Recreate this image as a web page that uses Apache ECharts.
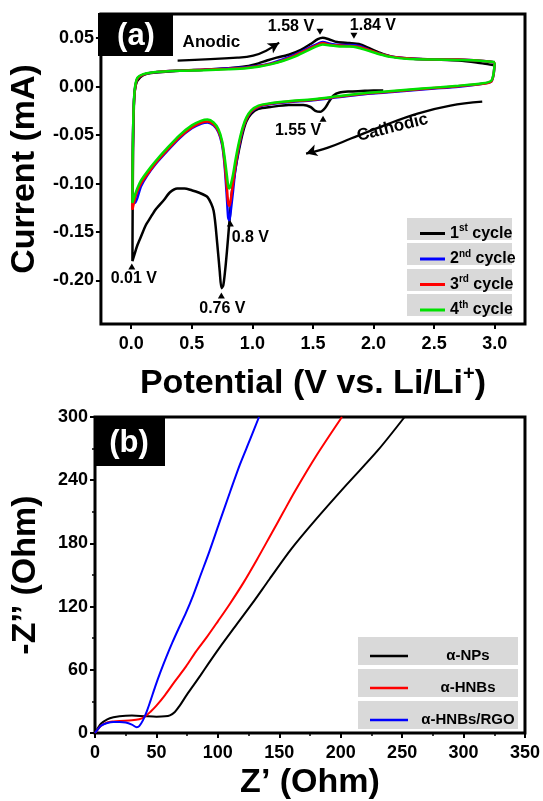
<!DOCTYPE html>
<html><head><meta charset="utf-8">
<script src="https://cdn.jsdelivr.net/npm/echarts@6/dist/echarts.min.js"></script>
<style>html,body{margin:0;padding:0;background:#fff}#c{width:543px;height:801px}</style>
</head><body><div id="c"></div>
<script>
// ---------- DATA ----------
const cvNames = ['1st cycle', '2nd cycle', '3rd cycle', '4th cycle'];
const cycle1 = [[2.08,-0.004],[2.0,-0.004],[1.9,-0.0045],[1.8,-0.005],[1.72,-0.006],[1.67,-0.009],[1.63,-0.016],[1.6,-0.022],[1.56,-0.026],[1.52,-0.025],[1.48,-0.021],[1.42,-0.019],[1.3,-0.019],[1.15,-0.021],[1.05,-0.023],[0.99,-0.028],[0.95,-0.036],[0.92,-0.048],[0.89,-0.065],[0.86,-0.085],[0.83,-0.11],[0.81,-0.14],[0.79,-0.17],[0.775,-0.19],[0.76,-0.205],[0.745,-0.208],[0.73,-0.19],[0.71,-0.162],[0.68,-0.128],[0.63,-0.114],[0.55,-0.109],[0.5,-0.107],[0.44,-0.105],[0.38,-0.105],[0.32,-0.109],[0.27,-0.117],[0.2,-0.127],[0.16,-0.135],[0.12,-0.143],[0.08,-0.155],[0.05,-0.164],[0.02,-0.176],[0.01,-0.18],[0.012,-0.12],[0.016,-0.06],[0.022,-0.02],[0.03,-0.004],[0.05,0.006],[0.1,0.012],[0.2,0.0145],[0.4,0.0165],[0.6,0.0175],[0.8,0.019],[0.95,0.021],[1.05,0.024],[1.12,0.027],[1.2,0.03],[1.3,0.033],[1.4,0.038],[1.48,0.044],[1.54,0.049],[1.58,0.0505],[1.63,0.049],[1.7,0.046],[1.8,0.045],[1.88,0.044],[1.96,0.04],[2.05,0.035],[2.15,0.031],[2.3,0.029],[2.5,0.028],[2.7,0.027],[2.85,0.025],[2.95,0.023],[3.0,0.022]];
const cycle2 = [[3.0,0.024],[2.99,0.012],[2.97,0.005],[2.9,0.003],[2.7,0.0],[2.5,-0.002],[2.3,-0.004],[2.1,-0.006],[1.9,-0.008],[1.7,-0.011],[1.5,-0.014],[1.3,-0.016],[1.15,-0.018],[1.05,-0.021],[0.99,-0.026],[0.95,-0.034],[0.92,-0.045],[0.89,-0.062],[0.86,-0.085],[0.84,-0.108],[0.82,-0.13],[0.81,-0.138],[0.8,-0.135],[0.79,-0.115],[0.77,-0.08],[0.75,-0.06],[0.72,-0.047],[0.68,-0.04],[0.63,-0.037],[0.58,-0.038],[0.5,-0.043],[0.4,-0.053],[0.3,-0.066],[0.2,-0.08],[0.13,-0.092],[0.08,-0.103],[0.05,-0.115],[0.03,-0.12],[0.01,-0.118],[0.012,-0.07],[0.018,-0.03],[0.028,-0.005],[0.05,0.008],[0.1,0.0125],[0.2,0.015],[0.4,0.0165],[0.6,0.0175],[0.8,0.019],[0.95,0.02],[1.05,0.0215],[1.15,0.024],[1.25,0.028],[1.35,0.033],[1.45,0.039],[1.52,0.043],[1.58,0.046],[1.65,0.044],[1.72,0.043],[1.8,0.043],[1.88,0.042],[1.96,0.038],[2.05,0.034],[2.15,0.031],[2.3,0.029],[2.5,0.028],[2.7,0.028],[2.85,0.027],[2.95,0.026],[3.0,0.025]];
const cycle3 = [[3.0,0.025],[2.99,0.012],[2.97,0.005],[2.9,0.003],[2.7,0.0005],[2.5,-0.0015],[2.3,-0.0035],[2.1,-0.0055],[1.9,-0.0075],[1.7,-0.0105],[1.5,-0.0135],[1.3,-0.0155],[1.15,-0.0175],[1.05,-0.0205],[0.99,-0.0255],[0.95,-0.0335],[0.92,-0.044],[0.89,-0.06],[0.86,-0.082],[0.84,-0.1],[0.82,-0.118],[0.81,-0.123],[0.8,-0.12],[0.79,-0.105],[0.77,-0.077],[0.75,-0.058],[0.72,-0.046],[0.68,-0.039],[0.63,-0.036],[0.58,-0.037],[0.5,-0.042],[0.4,-0.052],[0.3,-0.065],[0.2,-0.079],[0.13,-0.091],[0.08,-0.1],[0.05,-0.108],[0.03,-0.116],[0.01,-0.127],[0.012,-0.075],[0.018,-0.032],[0.028,-0.006],[0.05,0.008],[0.1,0.0125],[0.2,0.015],[0.4,0.0165],[0.6,0.0175],[0.8,0.0185],[0.95,0.0195],[1.05,0.021],[1.15,0.0235],[1.25,0.027],[1.35,0.032],[1.45,0.038],[1.52,0.042],[1.58,0.045],[1.65,0.043],[1.72,0.0425],[1.8,0.042],[1.88,0.041],[1.96,0.038],[2.05,0.034],[2.15,0.031],[2.3,0.029],[2.5,0.028],[2.7,0.028],[2.85,0.027],[2.95,0.026],[3.0,0.025]];
const cycle4 = [[3.0,0.025],[2.99,0.013],[2.97,0.006],[2.9,0.0035],[2.7,0.001],[2.5,-0.001],[2.3,-0.003],[2.1,-0.005],[1.9,-0.007],[1.7,-0.01],[1.5,-0.013],[1.3,-0.015],[1.15,-0.017],[1.05,-0.0195],[0.99,-0.0245],[0.95,-0.032],[0.92,-0.042],[0.89,-0.057],[0.86,-0.076],[0.84,-0.091],[0.82,-0.102],[0.81,-0.105],[0.8,-0.102],[0.79,-0.092],[0.77,-0.072],[0.75,-0.056],[0.72,-0.044],[0.68,-0.037],[0.63,-0.034],[0.58,-0.035],[0.5,-0.04],[0.4,-0.05],[0.3,-0.063],[0.2,-0.077],[0.13,-0.088],[0.08,-0.097],[0.05,-0.105],[0.03,-0.112],[0.01,-0.12],[0.012,-0.07],[0.018,-0.03],[0.028,-0.004],[0.05,0.009],[0.1,0.013],[0.2,0.0152],[0.4,0.0165],[0.6,0.017],[0.8,0.018],[0.95,0.019],[1.05,0.0205],[1.15,0.023],[1.25,0.0265],[1.35,0.031],[1.45,0.037],[1.52,0.041],[1.58,0.0435],[1.65,0.0425],[1.72,0.0415],[1.8,0.0415],[1.88,0.04],[1.96,0.037],[2.05,0.0335],[2.15,0.0305],[2.3,0.0285],[2.5,0.028],[2.7,0.0275],[2.85,0.027],[2.95,0.026],[3.0,0.0255]];
const cvXTicks = [0, 0.5, 1.0, 1.5, 2.0, 2.5, 3.0];
const cvYTicks = [-0.20, -0.15, -0.10, -0.05, 0.00, 0.05];

// peak annotations (a)
const peakX    = [1.558, 1.838, 1.583, 0.005, 0.744, 0.818];
const peakY    = [0.0567, 0.0526, -0.033, -0.1856, -0.2155, -0.1412];
const peakText = ['1.58 V', '1.84 V', '1.55 V', '0.01 V', '0.76 V', '0.8 V'];
const anodicArrow   = [[0.383,0.0268],[0.876,0.0299],[1.007,0.032],[1.114,0.0371],[1.221,0.0454]];
const cathodicArrow = [[2.897,-0.0155],[2.634,-0.0196],[2.363,-0.0278],[2.084,-0.0402],[1.813,-0.0536],[1.624,-0.0629],[1.443,-0.0691]];
const sweepText = ['Anodic', 'Cathodic'];
const sweepX = [0.662, 2.157];
const sweepY = [0.0454, -0.0423];

// Nyquist (b)
const eisNames = ['α-NPs', 'α-HNBs', 'α-HNBs/RGO'];
const zNPs  = [[0,0],[2,4],[5,9],[10,13],[15,15],[20,16],[30,16.5],[40,16],[50,15.5],[57,15.8],[61,16.8],[65,20],[69,26],[74,35],[80,45],[86,55],[93,67],[102,82],[114,101],[128,123],[142,146],[160,175],[180,203],[205,236],[230,268],[252,300]];
const zHNBs = [[0,0],[2,3],[5,7],[10,10],[15,11],[20,11.5],[30,12],[36,13],[40,15],[45,20],[50,26],[57,36],[65,49],[74,63],[82,77],[91,91],[100,106],[110,123],[121,143],[132,165],[143,188],[153,209],[163,230],[180,263],[201,300]];
const zRGO  = [[0,0],[2,3],[5,7],[10,9.5],[15,10.5],[20,10.5],[25,10],[30,8],[34,5.5],[36,6.5],[39,12],[42,20],[45,30],[49,44],[53,57],[58,72],[63,86],[68,99],[74,114],[80,131],[86,150],[93,172],[101,199],[110,229],[118,255],[126,278],[133.5,300]];

// ---------- CHART ----------
const FONT = '"Liberation Sans", Arial, Helvetica, sans-serif';
const cvColors = ['#000000', '#0000ff', '#ff0000', '#00e000'];
const eisColors = ['#000000', '#ff0000', '#0000ff'];
const cvData = [cycle1, cycle2, cycle3, cycle4];
const eisData = [zNPs, zHNBs, zRGO];

const bold = (s) => ({ fontFamily: FONT, fontWeight: 'bold', color: '#000', fontSize: s });

const peakStyle = [
  { rot: 180, off: [-29, -5] },
  { rot: 180, off: [19, -10] },
  { rot: 0, off: [-25, 12] },
  { rot: 0, off: [2, 12] },
  { rot: 0, off: [1, 13] },
  { rot: 0, off: [20, 14] }
];

const series = [];
cvData.forEach((d, i) => {
  series.push({
    name: cvNames[i], type: 'line', xAxisIndex: 0, yAxisIndex: 0,
    data: d, smooth: 0.25, symbol: 'none', color: cvColors[i],
    lineStyle: { width: 2.5, color: cvColors[i] }, z: 3 + i
  });
});
eisData.forEach((d, i) => {
  series.push({
    name: eisNames[i], type: 'line', xAxisIndex: 1, yAxisIndex: 1,
    data: d, smooth: 0.3, symbol: 'none', color: eisColors[i],
    lineStyle: { width: 2, color: eisColors[i] }, z: 3 + i
  });
});
function arrowSeries(pts, rot) {
  return {
    type: 'line', xAxisIndex: 0, yAxisIndex: 0, smooth: 0.4, symbol: 'none', showSymbol: true,
    lineStyle: { width: 2.2, color: '#000' }, itemStyle: { color: '#000', opacity: 1 }, z: 8, silent: true,
    data: pts.map((p, k) => k === pts.length - 1
      ? { value: p, symbol: 'arrow', symbolSize: [9, 11], symbolRotate: rot }
      : { value: p, symbol: 'none' })
  };
}
series.push(arrowSeries(anodicArrow, -58));
series.push(arrowSeries(cathodicArrow, 108));
series.push({
  type: 'scatter', xAxisIndex: 0, yAxisIndex: 0, z: 9, silent: true,
  itemStyle: { color: '#000', opacity: 1 },
  data: peakX.map((x, k) => ({
    value: [x, peakY[k]], symbol: 'triangle', symbolSize: [7, 6], symbolRotate: peakStyle[k].rot,
    itemStyle: { color: '#000', opacity: 1 },
    label: Object.assign({ show: true, formatter: peakText[k], position: 'inside', offset: peakStyle[k].off, opacity: 1, textBorderWidth: 0 }, bold(16))
  }))
});
series.push({
  type: 'scatter', xAxisIndex: 0, yAxisIndex: 0, z: 9, silent: true,
  itemStyle: { color: '#000', opacity: 1 },
  data: sweepX.map((x, k) => ({
    value: [x, sweepY[k]], symbolSize: 0.01,
    label: Object.assign({ show: true, formatter: sweepText[k], position: 'inside', rotate: k === 1 ? 14 : 0, opacity: 1, textBorderWidth: 0 }, bold(17))
  }))
});

const supRich = {
  n: bold(16),
  s: Object.assign(bold(10), { verticalAlign: 'top', lineHeight: 20 })
};
const cvLegendFmt = { '1st cycle': '{n|1}{s|st}{n| cycle}', '2nd cycle': '{n|2}{s|nd}{n| cycle}', '3rd cycle': '{n|3}{s|rd}{n| cycle}', '4th cycle': '{n|4}{s|th}{n| cycle}' };

const graphics = [];
[218, 243, 269, 294].forEach(y => graphics.push({ type: 'rect', shape: { x: 407, y: y, width: 105, height: 22 }, style: { fill: '#d9d9d9' }, z: 1 }));
[637, 669, 701].forEach(y => graphics.push({ type: 'rect', shape: { x: 358, y: y, width: 160, height: 28 }, style: { fill: '#d9d9d9' }, z: 1 }));
graphics.push({ type: 'rect', shape: { x: 98, y: 13, width: 75, height: 43 }, style: { fill: '#000' }, z: 10 });
graphics.push({ type: 'text', x: 136, y: 36, style: { text: '(a)', fill: '#fff', font: 'bold 31px ' + FONT, textAlign: 'center', textVerticalAlign: 'middle' }, z: 11 });
graphics.push({ type: 'rect', shape: { x: 94, y: 416, width: 71, height: 50 }, style: { fill: '#000' }, z: 10 });
graphics.push({ type: 'text', x: 129, y: 443, style: { text: '(b)', fill: '#fff', font: 'bold 31px ' + FONT, textAlign: 'center', textVerticalAlign: 'middle' }, z: 11 });

const tickStyle = { lineStyle: { width: 2, color: '#000' } };

const option = {
  animation: false,
  backgroundColor: '#fff',
  grid: [
    { left: 99, right: 18, top: 14, bottom: 477, show: true, borderColor: '#000', borderWidth: 3, backgroundColor: 'transparent' },
    { left: 95, right: 18, top: 417, bottom: 64, show: true, borderColor: '#000', borderWidth: 3, backgroundColor: 'transparent' }
  ],
  xAxis: [
    { gridIndex: 0, type: 'value', min: -0.25, max: 3.25,
      axisLine: { show: false, onZero: false }, splitLine: { show: false },
      axisTick: Object.assign({ show: true, length: 5, customValues: cvXTicks }, tickStyle),
      axisLabel: Object.assign({ customValues: cvXTicks, margin: 11, formatter: v => v.toFixed(1) }, bold(18)),
      name: '{n|Potential (V vs. Li/Li}{s|+}{n|)}', nameLocation: 'middle', nameGap: 40,
      nameTextStyle: { rich: { n: bold(34), s: Object.assign(bold(20), { verticalAlign: 'top', lineHeight: 40 }) } } },
    { gridIndex: 1, type: 'value', min: 0, max: 350, interval: 50,
      axisLine: { show: false, onZero: false }, splitLine: { show: false },
      axisTick: Object.assign({ show: true, length: 5 }, tickStyle),
      minorTick: { show: true, splitNumber: 2, length: 3, lineStyle: { width: 1.5, color: '#000' } },
      axisLabel: Object.assign({ margin: 11 }, bold(18)),
      name: 'Z’ (Ohm)', nameLocation: 'middle', nameGap: 33, nameTextStyle: bold(34) }
  ],
  yAxis: [
    { gridIndex: 0, type: 'value', min: -0.245, max: 0.075,
      axisLine: { show: false, onZero: false }, splitLine: { show: false },
      axisTick: Object.assign({ show: true, length: 5, customValues: cvYTicks }, tickStyle),
      axisLabel: Object.assign({ customValues: cvYTicks, margin: 7, formatter: v => v.toFixed(2) }, bold(18)),
      name: 'Current (mA)', nameLocation: 'middle', nameGap: 54, nameTextStyle: bold(34) },
    { gridIndex: 1, type: 'value', min: 0, max: 300, interval: 60,
      axisLine: { show: false, onZero: false }, splitLine: { show: false },
      axisTick: Object.assign({ show: true, length: 5 }, tickStyle),
      minorTick: { show: true, splitNumber: 2, length: 3, lineStyle: { width: 1.5, color: '#000' } },
      axisLabel: Object.assign({ margin: 7 }, bold(18)),
      name: '-Z’’ (Ohm)', nameLocation: 'middle', nameGap: 52, nameTextStyle: bold(34) }
  ],
  legend: [
    { data: cvNames, orient: 'vertical', left: 415, top: 218.5, itemWidth: 25, itemHeight: 3, itemGap: 5.5,
      icon: 'rect', selectedMode: false, z: 5, itemStyle: { borderWidth: 0 },
      formatter: n => cvLegendFmt[n], textStyle: { rich: supRich, lineHeight: 20 } },
    { data: eisNames, orient: 'vertical', left: 365, top: 641, itemWidth: 38, itemHeight: 2.5, itemGap: 12,
      icon: 'rect', selectedMode: false, z: 5, itemStyle: { borderWidth: 0 },
      formatter: n => '{c|' + n + '}',
      textStyle: { rich: { c: Object.assign(bold(15), { width: 110, align: 'center' }) }, lineHeight: 20 } }
  ],
  graphic: graphics,
  series: series
};
const chart = echarts.init(document.getElementById('c'), null, { renderer: 'canvas' });
chart.setOption(option);
</script></body></html>
